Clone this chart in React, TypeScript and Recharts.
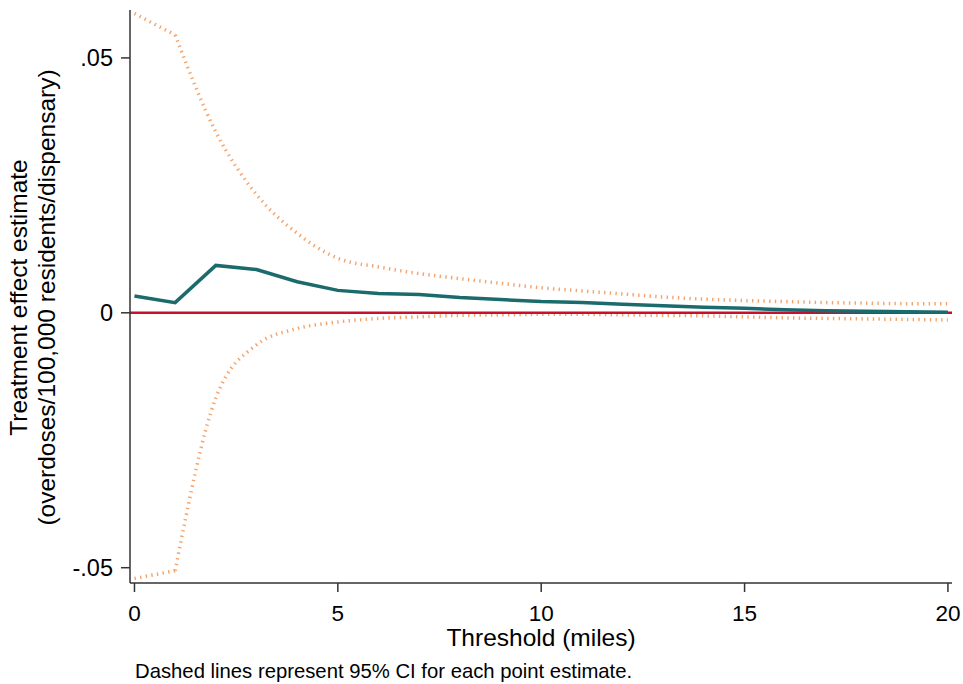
import React from 'react'
import { LineChart, Line, XAxis, YAxis, ReferenceLine } from 'recharts'

// threshold distance in miles
const thresholds = [0, 1, 2, 3, 4, 5, 6, 7, 8, 9, 10, 11, 12, 13, 14, 15, 16, 17, 18, 19, 20]

// point estimates and 95% CI bounds
const estimate = [
  0.0033, 0.002, 0.0093, 0.0085, 0.0061, 0.0044, 0.0038, 0.0036, 0.003, 0.0026, 0.0022,
  0.002, 0.0017, 0.0014, 0.0011, 0.0009, 0.0006, 0.0004, 0.0003, 0.0002, 0.0001,
]
const upperCI = [
  0.0587, 0.0545, 0.0355, 0.0232, 0.0156, 0.0107, 0.009, 0.0077, 0.0067, 0.0058, 0.0049,
  0.0043, 0.0037, 0.0031, 0.0027, 0.0024, 0.0022, 0.002, 0.0019, 0.0018, 0.0018,
]
const lowerCI = [
  -0.0521, -0.0506, -0.0167, -0.0063, -0.0031, -0.0018, -0.0011, -0.0008, -0.0005, -0.0004, -0.0003,
  -0.0003, -0.0004, -0.0005, -0.0006, -0.0008, -0.001, -0.0011, -0.0012, -0.0013, -0.0014,
]

const xTicks = [0, 5, 10, 15, 20]
const yTicks = [-0.05, 0, 0.05]

// CI bands are straight between 0 and 1, smooth after 1
const data = thresholds.map((t, i) => ({
  x: t,
  est: estimate[i],
  loA: t <= 1 ? lowerCI[i] : null,
  hiA: t <= 1 ? upperCI[i] : null,
  loB: t >= 1 ? lowerCI[i] : null,
  hiB: t >= 1 ? upperCI[i] : null,
}))

const FONT = '"Liberation Sans", Arial, sans-serif'
const AXIS = '#333'
const CI_COLOR = '#f4a36a'

const fmtY = (v: number) => {
  if (v === 0) return '0'
  return v < 0 ? '-' + String(Math.abs(v)).replace(/^0/, '') : String(v).replace(/^0/, '')
}

const ciProps = {
  stroke: CI_COLOR,
  strokeWidth: 3.5,
  strokeDasharray: '1.4 4.3',
  dot: false,
  connectNulls: false,
  isAnimationActive: false,
}

const App: React.FC = () => {
  return (
    <div style={{ position: 'absolute', left: 0, top: 0, width: 963, height: 684, background: '#fff' }}>
      <LineChart width={963} height={684} data={data} margin={{ top: 10, right: 11, bottom: 0, left: 0 }}>
        <XAxis
          dataKey="x"
          type="number"
          domain={[-0.11, 20.1]}
          ticks={xTicks}
          allowDataOverflow
          height={101}
          tickSize={9}
          tickMargin={13}
          axisLine={{ stroke: AXIS, strokeWidth: 1.5 }}
          tickLine={{ stroke: AXIS, strokeWidth: 1.5 }}
          tick={{ fill: '#000', fontSize: 22.5, fontFamily: FONT }}
        />
        <YAxis
          type="number"
          domain={[-0.053, 0.0594]}
          ticks={yTicks}
          allowDataOverflow
          width={130}
          tickSize={9}
          tickMargin={8}
          tickFormatter={fmtY}
          axisLine={{ stroke: AXIS, strokeWidth: 1.5 }}
          tickLine={{ stroke: AXIS, strokeWidth: 1.5 }}
          tick={{ fill: '#000', fontSize: 23.5, fontFamily: FONT }}
        />
        <Line type="linear" dataKey="hiA" {...ciProps} />
        <Line type="monotone" dataKey="hiB" {...ciProps} />
        <Line type="linear" dataKey="loA" {...ciProps} />
        <Line type="monotone" dataKey="loB" {...ciProps} />
        <ReferenceLine y={0} stroke="#c8102e" strokeWidth={2.5} />
        <Line
          type="linear"
          dataKey="est"
          stroke="#1b6b6d"
          strokeWidth={3.5}
          dot={false}
          isAnimationActive={false}
        />
      </LineChart>
      <svg
        width={963}
        height={684}
        style={{ position: 'absolute', left: 0, top: 0, pointerEvents: 'none' }}
        fontFamily={FONT}
      >
        <text x={541} y={646} fontSize={24.5} textAnchor="middle" fill="#000">
          Threshold (miles)
        </text>
        <text x={135} y={678} fontSize={20.3} fill="#000">
          Dashed lines represent 95% CI for each point estimate.
        </text>
        <text transform="translate(27, 297.5) rotate(-90)" fontSize={24.5} textAnchor="middle" fill="#000">
          Treatment effect estimate
        </text>
        <text transform="translate(55, 297.5) rotate(-90)" fontSize={24.5} textAnchor="middle" fill="#000">
          (overdoses/100,000 residents/dispensary)
        </text>
      </svg>
    </div>
  )
}

export default App
